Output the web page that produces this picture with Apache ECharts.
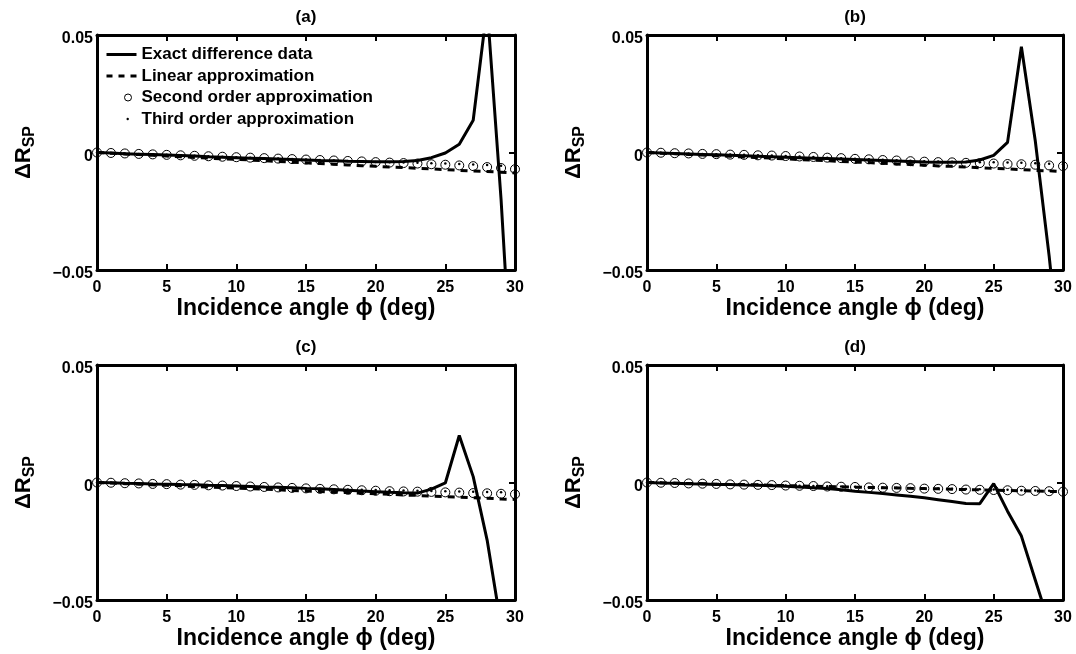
<!DOCTYPE html>
<html lang="en">
<head>
    <meta charset="UTF-8">
    <title>ΔR_SP vs incidence angle</title>
    <style>
        body, html {
            margin: 0;
            padding: 0;
            background: #fff;
        }

        #main {
            width: 1076px;
            height: 654px;
        }
    </style>
</head>
<body>
<div id="main"></div>
<script src="https://cdn.jsdelivr.net/npm/echarts@6.0.0/dist/echarts.min.js"></script>
<script>

    // incidence angle (deg), one sample per degree
    let angles = [0, 1, 2, 3, 4, 5, 6, 7, 8, 9, 10, 11, 12, 13, 14, 15, 16, 17, 18, 19, 20,
        21, 22, 23, 24, 25, 26, 27, 28, 29, 30];

    // (a)
    let exactA = [0, -0.0002, -0.0005, -0.0007, -0.0009, -0.0011, -0.0013, -0.0015, -0.0018, -0.002, -0.0022,
        -0.0024, -0.0026, -0.0028, -0.003, -0.0032, -0.0034, -0.0035, -0.0037, -0.0038, -0.0039,
        -0.0039, -0.0038, -0.0034, -0.0022, -0.0002, 0.0035, 0.0137, 0.062, -0.02, -0.12];
    let linearA = [0, -0.0003, -0.0006, -0.0009, -0.0012, -0.0015, -0.0018, -0.0021, -0.0024, -0.0027, -0.0029,
        -0.0032, -0.0035, -0.0038, -0.0041, -0.0044, -0.0047, -0.005, -0.0053, -0.0056, -0.0059,
        -0.0062, -0.0064, -0.0067, -0.007, -0.0073, -0.0076, -0.0079, -0.0081, -0.0084, -0.0087];
    let secondA = [0, -0.0002, -0.0004, -0.0006, -0.0008, -0.001, -0.0012, -0.0014, -0.0016, -0.0018, -0.002,
        -0.0022, -0.0024, -0.0026, -0.0028, -0.003, -0.0032, -0.0034, -0.0036, -0.0038, -0.0041,
        -0.0043, -0.0045, -0.0047, -0.005, -0.0052, -0.0055, -0.0058, -0.0062, -0.0066, -0.0071];
    let thirdA = [0, -0.0002, -0.0004, -0.0006, -0.0008, -0.001, -0.0012, -0.0014, -0.0016, -0.0018, -0.002,
        -0.0022, -0.0024, -0.0026, -0.0028, -0.003, -0.0032, -0.0034, -0.0036, -0.0038, -0.004,
        -0.0042, -0.0043, -0.0044, -0.0046, -0.0047, -0.0049, -0.0051, -0.0053, -0.0056, -0.006];

    // (b)
    let exactB = [0, -0.0002, -0.0004, -0.0006, -0.0008, -0.001, -0.0012, -0.0014, -0.0016, -0.0018, -0.002,
        -0.0022, -0.0024, -0.0026, -0.0028, -0.003, -0.0032, -0.0034, -0.0036, -0.0038, -0.004,
        -0.0041, -0.0042, -0.004, -0.0032, -0.0012, 0.0043, 0.045, 0.005, -0.044, -0.1];
    let linearB = [0, -0.0003, -0.0005, -0.0008, -0.0011, -0.0014, -0.0016, -0.0019, -0.0022, -0.0024, -0.0027,
        -0.003, -0.0032, -0.0035, -0.0038, -0.0041, -0.0043, -0.0046, -0.0049, -0.0051, -0.0054,
        -0.0057, -0.0059, -0.0062, -0.0065, -0.0068, -0.007, -0.0073, -0.0076, -0.0078, -0.0081];
    let secondB = [0, -0.0001, -0.0003, -0.0004, -0.0006, -0.0007, -0.0009, -0.001, -0.0012, -0.0013, -0.0015,
        -0.0017, -0.0019, -0.0022, -0.0024, -0.0027, -0.0029, -0.0032, -0.0034, -0.0037, -0.0039,
        -0.0041, -0.0042, -0.0044, -0.0045, -0.0047, -0.0049, -0.005, -0.0052, -0.0055, -0.0058];
    let thirdB = [0, -0.0001, -0.0003, -0.0004, -0.0006, -0.0007, -0.0009, -0.001, -0.0012, -0.0013, -0.0015,
        -0.0017, -0.0019, -0.0022, -0.0024, -0.0027, -0.0029, -0.0031, -0.0033, -0.0035, -0.0037,
        -0.0038, -0.0039, -0.004, -0.0041, -0.0042, -0.0043, -0.0044, -0.0046, -0.0048, -0.005];

    // (c)
    let exactC = [0, -0.0001, -0.0003, -0.0004, -0.0006, -0.0007, -0.0009, -0.001, -0.0012, -0.0013, -0.0015,
        -0.0017, -0.0019, -0.002, -0.0022, -0.0025, -0.0027, -0.003, -0.0033, -0.0036, -0.0039,
        -0.0042, -0.0044, -0.0045, -0.0028, -0.0002, 0.02, 0.0025, -0.0245, -0.061, -0.15];
    let linearC = [0, -0.0002, -0.0005, -0.0007, -0.001, -0.0012, -0.0014, -0.0017, -0.0019, -0.0022, -0.0024,
        -0.0026, -0.0029, -0.0031, -0.0034, -0.0036, -0.0038, -0.0041, -0.0043, -0.0046, -0.0048,
        -0.005, -0.0053, -0.0055, -0.0058, -0.006, -0.0062, -0.0065, -0.0067, -0.007, -0.0072];
    let secondC = [0, -0.0001, -0.0003, -0.0004, -0.0006, -0.0007, -0.0009, -0.001, -0.0012, -0.0013, -0.0015,
        -0.0017, -0.0019, -0.0021, -0.0023, -0.0025, -0.0027, -0.0029, -0.0031, -0.0033, -0.0035,
        -0.0037, -0.0038, -0.0039, -0.004, -0.0042, -0.0043, -0.0045, -0.0046, -0.0048, -0.005];
    let thirdC = [0, -0.0001, -0.0003, -0.0004, -0.0006, -0.0007, -0.0009, -0.001, -0.0012, -0.0013, -0.0015,
        -0.0017, -0.0019, -0.0021, -0.0023, -0.0025, -0.0027, -0.0029, -0.003, -0.0031, -0.0032,
        -0.0033, -0.0034, -0.0035, -0.0036, -0.0037, -0.0038, -0.0039, -0.004, -0.0042, -0.0044];

    // (d)
    let exactD = [0, -0.0002, -0.0003, -0.0005, -0.0006, -0.0008, -0.0009, -0.0011, -0.0012, -0.0014, -0.0016,
        -0.0019, -0.0022, -0.0026, -0.0031, -0.0037, -0.0042, -0.0047, -0.0053, -0.0059, -0.0065,
        -0.0073, -0.0081, -0.0089, -0.009, -0.0005, -0.0122, -0.0228, -0.0415, -0.06, -0.1];
    let linearD = [0, -0.0001, -0.0003, -0.0004, -0.0005, -0.0007, -0.0008, -0.0009, -0.001, -0.0012, -0.0013,
        -0.0014, -0.0016, -0.0017, -0.0018, -0.002, -0.0021, -0.0022, -0.0023, -0.0025, -0.0026,
        -0.0027, -0.0029, -0.003, -0.0031, -0.0033, -0.0034, -0.0035, -0.0036, -0.0038, -0.0039];
    let secondD = [0, -0.0001, -0.0002, -0.0004, -0.0005, -0.0006, -0.0008, -0.0009, -0.001, -0.0011, -0.0013,
        -0.0014, -0.0015, -0.0017, -0.0018, -0.0019, -0.0021, -0.0022, -0.0023, -0.0024, -0.0026,
        -0.0027, -0.0028, -0.003, -0.0031, -0.0032, -0.0033, -0.0035, -0.0036, -0.0037, -0.0039];
    let thirdD = [0, -0.0001, -0.0002, -0.0004, -0.0005, -0.0006, -0.0008, -0.0009, -0.001, -0.0011, -0.0013,
        -0.0014, -0.0015, -0.0016, -0.0017, -0.0018, -0.002, -0.0021, -0.0022, -0.0023, -0.0025,
        -0.0026, -0.0027, -0.0028, -0.0029, -0.003, -0.0031, -0.0033, -0.0034, -0.0035, -0.0036];

    let panelTags = ['(a)', '(b)', '(c)', '(d)'];
    let seriesNames = ['Exact difference data', 'Linear approximation', 'Second order approximation', 'Third order approximation'];
    let xTicks = [0, 30, 5];          // min, max, step
    let yTicks = [-0.05, 0.05, 0.05]; // min, max, step

    let panels = [
        [exactA, linearA, secondA, thirdA],
        [exactB, linearB, secondB, thirdB],
        [exactC, linearC, secondC, thirdC],
        [exactD, linearD, secondD, thirdD]
    ];

    let font = 'Liberation Sans';
    let boxes = [
        {left: 97, top: 35, width: 418, height: 235},
        {left: 647, top: 35, width: 416, height: 235},
        {left: 97, top: 365, width: 418, height: 235},
        {left: 647, top: 365, width: 416, height: 235}
    ];

    function pairs(ys) {
        return angles.map(function (a, k) {
            return [a, ys[k]];
        });
    }

    function yLabel(v) {
        if (Math.abs(v) < 1e-9) return '0';
        return (v < 0 ? '\u2212' : '') + Math.abs(v).toFixed(2);
    }

    // the four sides of each box are drawn by the axes themselves
    let edge = {show: true, onZero: false, lineStyle: {color: '#000', width: 3}};
    let tick = {show: true, inside: true, length: 6, lineStyle: {color: '#000', width: 2}};
    let grid = [], xAxis = [], yAxis = [], title = [], series = [];

    boxes.forEach(function (b, i) {
        grid.push({
            left: b.left, top: b.top, width: b.width, height: b.height,
            show: false, containLabel: false, outerBoundsMode: 'none'
        });
        title.push({
            text: panelTags[i],
            left: b.left + b.width / 2,
            top: b.top - 26,
            textAlign: 'center',
            padding: 0,
            textStyle: {fontSize: 17, fontWeight: 'bold', color: '#000', fontFamily: font}
        });
        // bottom x axis carries labels, top one only the mirrored ticks
        xAxis.push({
            gridIndex: i, type: 'value', position: 'bottom',
            min: xTicks[0], max: xTicks[1], interval: xTicks[2],
            name: 'Incidence angle \u03d5 (deg)', nameLocation: 'middle', nameGap: 23,
            nameTextStyle: {fontSize: 23, fontWeight: 'bold', color: '#000', fontFamily: font},
            axisLine: edge,
            axisTick: tick,
            axisLabel: {margin: 10, fontSize: 16, fontWeight: 'bold', color: '#000', fontFamily: font},
            splitLine: {show: false}
        });
        xAxis.push({
            gridIndex: i, type: 'value', position: 'top',
            min: xTicks[0], max: xTicks[1], interval: xTicks[2],
            axisLine: edge,
            axisTick: tick,
            axisLabel: {show: false},
            splitLine: {show: false}
        });
        yAxis.push({
            gridIndex: i, type: 'value', position: 'left',
            min: yTicks[0], max: yTicks[1], interval: yTicks[2],
            name: '{d|\u0394R}{s|SP}', nameLocation: 'middle', nameRotate: 90, nameGap: 59,
            nameTextStyle: {
                color: '#000',
                rich: {
                    d: {fontSize: 22, fontWeight: 'bold', color: '#000', fontFamily: font, verticalAlign: 'bottom', padding: [0, 0, 3, 0]},
                    s: {fontSize: 16, fontWeight: 'bold', color: '#000', fontFamily: font, verticalAlign: 'bottom'}
                }
            },
            axisLine: edge,
            axisTick: tick,
            axisLabel: {
                margin: 4, fontSize: 16, fontWeight: 'bold', color: '#000', fontFamily: font,
                verticalAlign: 'top', lineHeight: 8, formatter: yLabel
            },
            splitLine: {show: false}
        });
        yAxis.push({
            gridIndex: i, type: 'value', position: 'right',
            min: yTicks[0], max: yTicks[1], interval: yTicks[2],
            axisLine: edge,
            axisTick: tick,
            axisLabel: {show: false},
            splitLine: {show: false}
        });

        let d = panels[i];
        series.push({
            name: seriesNames[0], type: 'line', xAxisIndex: 2 * i, yAxisIndex: 2 * i,
            data: pairs(d[0]), symbol: 'none', clip: true,
            lineStyle: {color: '#000', width: 3}, itemStyle: {color: '#000'}
        });
        series.push({
            name: seriesNames[1], type: 'line', xAxisIndex: 2 * i, yAxisIndex: 2 * i,
            data: pairs(d[1]), symbol: 'none', clip: true,
            lineStyle: {color: '#000', width: 3, type: [7, 6]}, itemStyle: {color: '#000'}
        });
        series.push({
            name: seriesNames[2], type: 'scatter', xAxisIndex: 2 * i, yAxisIndex: 2 * i,
            data: pairs(d[2]), symbol: 'circle', symbolSize: 9,
            itemStyle: {color: 'rgba(255,255,255,0)', borderColor: '#000', borderWidth: 1, opacity: 1}
        });
        series.push({
            name: seriesNames[3], type: 'scatter', xAxisIndex: 2 * i, yAxisIndex: 2 * i,
            data: pairs(d[3]), symbol: 'circle', symbolSize: 2.5,
            itemStyle: {color: '#000', opacity: 1}
        });
    });

    let myChart = echarts.init(document.getElementById('main'), null, {renderer: 'canvas'});
    let option = {
        backgroundColor: '#fff',
        animation: false,
        title: title,
        grid: grid,
        xAxis: xAxis,
        yAxis: yAxis,
        legend: {
            orient: 'vertical',
            left: 106,
            top: 46,
            padding: 0,
            itemWidth: 30,
            itemHeight: 8,
            itemGap: 4.5,
            selectedMode: false,
            itemStyle: {borderWidth: 0},
            textStyle: {fontSize: 17, fontWeight: 'bold', color: '#000', fontFamily: font, lineHeight: 17},
            data: [
                {name: seriesNames[0], icon: 'path://M0 0M30 0M30 8M0 8M0 2.5L30 2.5L30 5.5L0 5.5Z'},
                {name: seriesNames[1], icon: 'path://M0 0M30 0M30 8M0 8M0 2.5h6v3h-6zM12 2.5h6v3h-6zM24 2.5h6v3h-6z'},
                {name: seriesNames[2], icon: 'path://M0 0M30 0M30 8M0 8M25 4a3.5 3.5 0 1 0 -7 0a3.5 3.5 0 1 0 7 0', itemStyle: {borderWidth: 1, borderColor: '#000'}},
                {name: seriesNames[3], icon: 'path://M0 0M30 0M30 8M0 8M20 4a1.2 1.2 0 1 0 2.4 0a1.2 1.2 0 1 0 -2.4 0'}
            ]
        },
        series: series
    };

    myChart.setOption(option);

</script>
</body>
</html>
